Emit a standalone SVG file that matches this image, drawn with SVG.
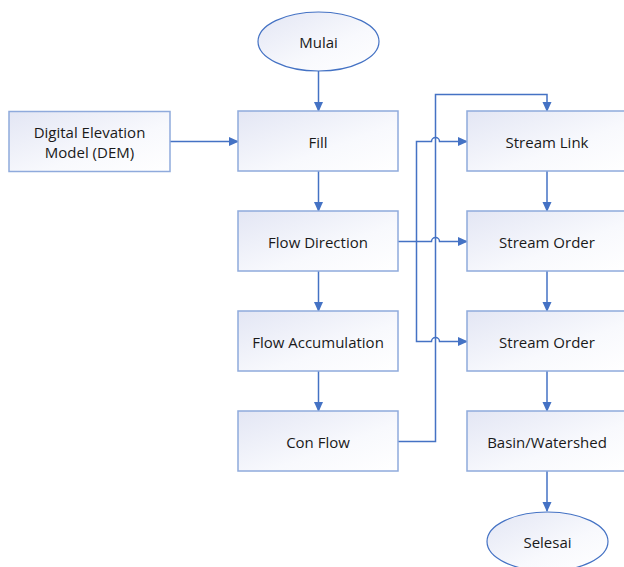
<svg xmlns="http://www.w3.org/2000/svg" width="624" height="567" viewBox="0 0 624 567">
<defs>
<linearGradient id="g" x1="0" y1="0" x2="1" y2="1">
<stop offset="0" stop-color="#E3E6F4"/>
<stop offset="0.6" stop-color="#F8F9FD"/>
<stop offset="1" stop-color="#FFFFFF"/>
</linearGradient>
<marker id="ar" markerWidth="10" markerHeight="10" refX="9" refY="5" orient="auto" markerUnits="userSpaceOnUse">
<path d="M0,0.5 L10,5 L0,9.5 Z" fill="#4472C4"/>
</marker>
<style>
.box{fill:url(#g);stroke:#8FAADC;stroke-width:1.5}
.ell{fill:url(#g);stroke:#4472C4;stroke-width:1.2}
.t{font-family:"Open Sans","Noto Sans","Liberation Sans",sans-serif;font-size:15px;fill:#1a1a1a;text-anchor:middle;dominant-baseline:central}
.c{fill:none;stroke:#4472C4;stroke-width:1.5}
</style>
</defs>
<rect width="624" height="567" fill="#FFFFFF"/>
<g id="connectors">
<path class="c" d="M318.5,71 V111" marker-end="url(#ar)"/>
<path class="c" d="M170,141.5 H238" marker-end="url(#ar)"/>
<path class="c" d="M318.5,171 V211" marker-end="url(#ar)"/>
<path class="c" d="M318.5,271 V311" marker-end="url(#ar)"/>
<path class="c" d="M318.5,371 V411" marker-end="url(#ar)"/>
<path class="c" d="M398,441.5 H435.5 V94.5 H547 V111" marker-end="url(#ar)"/>
<path class="c" d="M398,241.5 H431.5 A4,4 0 0 1 439.5,241.5 H467" marker-end="url(#ar)"/>
<path class="c" d="M416.5,241.5 V141.5 H431.5 A4,4 0 0 1 439.5,141.5 H467" marker-end="url(#ar)"/>
<path class="c" d="M416.5,241.5 V341.5 H431.5 A4,4 0 0 1 439.5,341.5 H467" marker-end="url(#ar)"/>
<path class="c" d="M547,171 V211" marker-end="url(#ar)"/>
<path class="c" d="M547,271 V311" marker-end="url(#ar)"/>
<path class="c" d="M547,371 V411" marker-end="url(#ar)"/>
<path class="c" d="M547,471 V511" marker-end="url(#ar)"/>
</g>
<g id="mulai"><ellipse class="ell" cx="318.5" cy="41.5" rx="60.5" ry="29.5"/><text class="t" x="318.5" y="42">Mulai</text></g>
<g id="dem"><rect class="box" x="9" y="111.5" width="161" height="60"/><text class="t" x="89.5" y="131.5">Digital Elevation</text><text class="t" x="89.5" y="152">Model (DEM)</text></g>
<g id="fill"><rect class="box" x="238" y="111" width="160" height="60"/><text class="t" x="318" y="141.5">Fill</text></g>
<g id="flowdir"><rect class="box" x="238" y="211" width="160" height="60"/><text class="t" x="318" y="241.5">Flow Direction</text></g>
<g id="flowacc"><rect class="box" x="238" y="311" width="160" height="60"/><text class="t" x="318" y="341.5">Flow Accumulation</text></g>
<g id="conflow"><rect class="box" x="238" y="411" width="160" height="60"/><text class="t" x="318" y="441.5">Con Flow</text></g>
<g id="streamlink"><rect class="box" x="467" y="111" width="160" height="60"/><text class="t" x="547" y="141.5">Stream Link</text></g>
<g id="streamorder1"><rect class="box" x="467" y="211" width="160" height="60"/><text class="t" x="547" y="241.5">Stream Order</text></g>
<g id="streamorder2"><rect class="box" x="467" y="311" width="160" height="60"/><text class="t" x="547" y="341.5">Stream Order</text></g>
<g id="basin"><rect class="box" x="467" y="411" width="160" height="60"/><text class="t" x="547" y="441.5">Basin/Watershed</text></g>
<g id="selesai"><ellipse class="ell" cx="547.5" cy="541.5" rx="60.5" ry="29.5"/><text class="t" x="547.5" y="542">Selesai</text></g>
</svg>
